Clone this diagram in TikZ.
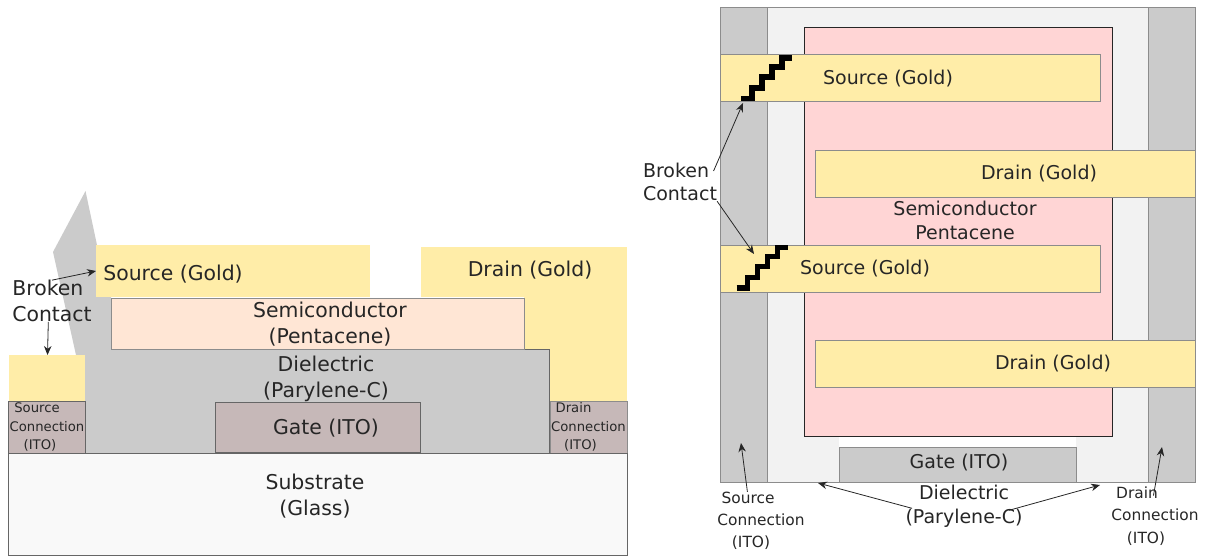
\documentclass[tikz,border=0pt]{standalone}
\usepackage{fontspec}
\setmainfont{DejaVu Sans}
\usetikzlibrary{positioning,arrows.meta}

\definecolor{gold}{HTML}{FFEDA8}
\definecolor{ito}{HTML}{C6B8B8}
\definecolor{parylene}{HTML}{CBCBCB}
\definecolor{pentacene}{HTML}{FFE6D5}
\definecolor{pentaceneTop}{HTML}{FFD5D5}
\definecolor{glass}{HTML}{F9F9F9}
\definecolor{dielTop}{HTML}{F2F2F2}
\definecolor{ink}{HTML}{262626}

\begin{document}
\begin{tikzpicture}
    [x=1pt,y=-1pt,%%%%%%%%%%%%%%%%%%%%%%%%%%%%%%
    box/.style={rectangle,inner sep=0pt,outer sep=0pt},
    edged/.style={box,draw=black!45,line width=0.9pt},
    label/.style={inner sep=0pt,align=center,text=ink,font=\fontsize{20.4}{25.5}\selectfont},
    toplabel/.style={inner sep=0pt,align=center,text=ink,font=\fontsize{19}{23.5}\selectfont},
    smalllabel/.style={inner sep=0pt,align=center,text=ink,font=\fontsize{13.2}{18.8}\selectfont},
    midlabel/.style={inner sep=0pt,align=center,text=ink,font=\fontsize{15.4}{22.2}\selectfont},
    pointer/.style={-{Stealth[length=9pt,width=7.5pt]},line width=0.8pt,color=ink},
    ]%%%%%%%%%%%%%%%%%%%%%%%%%%%%%%

    \useasboundingbox (0,0) rectangle (1207,556);

    % cross section
    \fill[parylene] (85.5,191) -- (53,252) -- (76,355) -- (111,355) -- (111,297) -- (97,297) -- (97,245) -- cycle;
    \node[box,fill=gold,minimum width=206pt,minimum height=50pt] at (524,272) (drain_side){};
    \node[box,fill=gold,minimum width=103pt,minimum height=105pt] at (575.5,349.5) (drain_leg){};
    \node[box,fill=gold,minimum width=274pt,minimum height=52pt] at (233,271) (source_side){};
    \node[box,fill=gold,minimum width=77pt,minimum height=46pt] at (47.5,378) (source_leg){};
    \node[box,fill=parylene,minimum width=464pt,minimum height=104pt] at (317,401) (diel_side){};
    \draw[black!60,line width=0.9pt] (diel_side.north west) ++(44,0) -- (diel_side.north east) -- (diel_side.south east);
    \node[edged,fill=pentacene,minimum width=413pt,minimum height=51pt] at (317.5,323.5) (semi_side){};
    \node[edged,draw=black!60,fill=ito,minimum width=205pt,minimum height=50pt] at (317.5,427) (gate_side){};
    \node[edged,draw=black!60,fill=ito,minimum width=77pt,minimum height=52pt] at (46.5,427) (sconn_side){};
    \node[edged,fill=ito,minimum width=77pt,minimum height=52pt] at (588.5,427) (dconn_side){};
    \node[edged,draw=black!60,fill=glass,minimum width=619pt,minimum height=102pt] at (317.5,504) (substrate){};

    \node[label] at (173,274) (source_side_text) {Source (Gold)};
    \node[label] at (530,270) (drain_side_text) {Drain (Gold)};
    \node[label] at (330,324) (semi_side_text) {Semiconductor\\(Pentacene)};
    \node[label] at (326,379) (diel_side_text) {Dielectric\\(Parylene-C)};
    \node[label] at (326,428) (gate_side_text) {Gate (ITO)};
    \node[label] at (315,496) (substrate_text) {Substrate\\(Glass)};
    \node[smalllabel] at (47,427) (sconn_side_text) {Source\hspace*{20pt}\\Connection\\(ITO)\hspace*{14pt}};
    \node[smalllabel] at (588.5,427) (dconn_side_text) {Drain\hspace*{30pt}\\Connection\\(ITO)\hspace*{16pt}};

    \node[label,align=left] at (52,301) (broken_side_text) {Broken\\Contact};
    \draw[pointer] (broken_side_text.north) -- (source_side.west);
    \draw[pointer] (broken_side_text.-100) -- (source_leg.north);

    % top view
    \node[edged,fill=dielTop,minimum width=381pt,minimum height=475pt] at (957.5,244.5) (diel_top){};
    \node[edged,fill=parylene,minimum width=47pt,minimum height=475pt] at (743.5,244.5) (sconn_top){};
    \node[edged,fill=parylene,minimum width=47pt,minimum height=475pt] at (1171.5,244.5) (dconn_top){};
    \node[box,fill=white,minimum width=237pt,minimum height=11pt] at (957.5,441.5) (gate_gap){};
    \node[box,draw=black!85,line width=0.9pt,fill=pentaceneTop,minimum width=308pt,minimum height=409pt] at (958,231.5) (semi_top){};
    \node[edged,fill=parylene,minimum width=237pt,minimum height=35pt] at (957.5,464.5) (gate_top){};
    \node[edged,fill=gold,minimum width=380pt,minimum height=47pt] at (910,77.5) (source_a){};
    \node[edged,fill=gold,minimum width=380pt,minimum height=47pt] at (910,268.5) (source_b){};
    \node[edged,fill=gold,minimum width=380pt,minimum height=47pt] at (1005,173.5) (drain_a){};
    \node[edged,fill=gold,minimum width=380pt,minimum height=47pt] at (1005,363.5) (drain_b){};

    % broken stairs
    \foreach \dx/\dy in {0/0,-4.5/189.5}
        \draw[line width=5.2pt,line join=miter,xshift=\dx pt,yshift=-\dy pt]
            (741,98.5) -- (752,98.5) -- (752,88) -- (762,88) -- (762,77) -- (772,77)
            -- (772,67) -- (782,67) -- (782,58) -- (792,58);

    \node[toplabel] at (888,78.5) (source_a_text) {Source (Gold)};
    \node[toplabel] at (865,268.5) (source_b_text) {Source (Gold)};
    \node[toplabel] at (1039,174) (drain_a_text) {Drain (Gold)};
    \node[toplabel] at (1053,363.5) (drain_b_text) {Drain (Gold)};
    \node[toplabel] at (965,220.5) (semi_top_text) {Semiconductor\\Pentacene};
    \node[toplabel] at (959,463) (gate_top_text) {Gate (ITO)};
    \node[toplabel] at (964,506.5) (diel_top_text) {Dielectric\\(Parylene-C)};
    \node[toplabel,align=left] at (680,182) (broken_top_text) {Broken\\Contact};
    \node[midlabel] at (761,521) (sconn_top_text) {Source\hspace*{26pt}\\Connection\\(ITO)\hspace*{20pt}};
    \node[midlabel] at (1155,516) (dconn_top_text) {Drain\hspace*{36pt}\\Connection\\(ITO)\hspace*{18pt}};

    \coordinate (stair_a) at (743,103);
    \coordinate (stair_b) at (754,254);
    \coordinate (diel_left) at (818,483);
    \coordinate (diel_right) at (1100,485);
    \coordinate (sconn_tip) at (741,443);
    \coordinate (dconn_tip) at (1162,447);

    \draw[pointer,shorten <=-9pt] (broken_top_text.north east) -- (stair_a);
    \draw[pointer] (broken_top_text.south east) -- (stair_b);
    \draw[pointer,shorten <=-7pt] (diel_top_text.west) -- (diel_left);
    \draw[pointer,shorten <=-14pt] (diel_top_text.east) -- (diel_right);
    \draw[pointer] (sconn_top_text.115) -- (sconn_tip);
    \draw[pointer,shorten <=-9pt] (dconn_top_text.north) -- (dconn_tip);
\end{tikzpicture}
\end{document}
